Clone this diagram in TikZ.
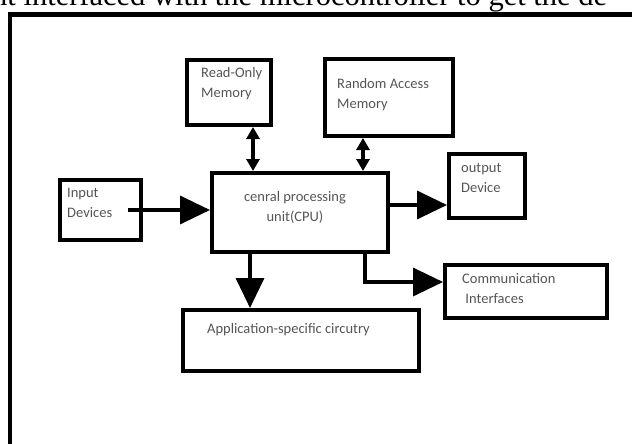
\documentclass[tikz,border=0pt]{standalone}
\usepackage{fontspec}
\setmainfont{Liberation Serif}
\newfontfamily\boxfont{Carlito}
\usetikzlibrary{arrows.meta}
\definecolor{labelgray}{RGB}{85,85,85}
\tikzset{
    frame/.style={draw=black, line width=4.5pt},
    unitbox/.style={draw=black, line width=3.6pt, inner sep=0pt, anchor=north west},
    boxlabel/.style={font=\boxfont\fontsize{14.5}{20}\selectfont, text=labelgray, inner sep=0pt, align=left, anchor=base west},
    bigarrow/.style={line width=3.6pt, -{Triangle[length=30pt,width=28pt]}},
    busarrow/.style={line width=3.6pt, {Triangle[length=12pt,width=13pt]}-{Triangle[length=12pt,width=13pt]}}
}

\begin{document}
\begin{tikzpicture}[x=1pt, y=-1pt]
    \useasboundingbox (0,0) rectangle (632,444);
    \clip (0,0) rectangle (632,444);
    % running text cut off above the figure
    \node[font=\fontsize{30.5}{32}\selectfont, anchor=base west, inner sep=0pt] (caption) at (-8,6) {nt interfaced with the microcontroller to get the de};
    \draw[frame] (10,470) -- (10,14.5) -- (660,14.5);
    % blocks
    \node[unitbox, minimum width=84.4pt, minimum height=65.4pt] (rom) at (185,58) {};
    \node[unitbox, minimum width=128.4pt, minimum height=77.4pt] (ram) at (323,57) {};
    \node[unitbox, minimum width=81.4pt, minimum height=60.4pt] (input) at (58,178) {};
    \node[unitbox, minimum width=176.4pt, minimum height=79.4pt] (cpu) at (210,171) {};
    \node[unitbox, minimum width=76.4pt, minimum height=64.4pt] (out) at (447,152) {};
    \node[unitbox, minimum width=162.4pt, minimum height=53.4pt] (comm) at (443,263) {};
    \node[unitbox, minimum width=236.4pt, minimum height=61.4pt] (app) at (181,308) {};
    % labels
    \node[boxlabel] (romtext) at (201,97) {Read-Only\\Memory};
    \node[boxlabel] (ramtext) at (337,108) {Random Access\\Memory};
    \node[boxlabel] (inputtext) at (67,217) {Input\\Devices};
    \node[boxlabel, align=center, anchor=base] (cputext) at (295,221) {cenral processing\\unit(CPU)};
    \node[boxlabel] (outtext) at (461,192) {output\\Device};
    \node[boxlabel] (commtext) at (462,303) {Communication\\\ Interfaces};
    \node[boxlabel] (apptext) at (207,333) {Application-specific circutry};
    % connections
    \draw[bigarrow] ([xshift=-15pt]input.east) -- (input.east -| cpu.west);
    \draw[busarrow] ([xshift=68pt]rom.south west) -- ([xshift=68pt]rom.south west |- cpu.north);
    \draw[busarrow] ([xshift=40pt]ram.south west) -- ([xshift=40pt]ram.south west |- cpu.north);
    \draw[bigarrow] ([yshift=7.5pt]cpu.east) -- ([yshift=7.5pt]cpu.east -| out.west);
    \draw[bigarrow] ([xshift=-25pt]cpu.south east) |- ([yshift=9.5pt]comm.west);
    \draw[bigarrow] ([xshift=40pt]cpu.south west) -- ([xshift=40pt]cpu.south west |- app.north);
\end{tikzpicture}
\end{document}
